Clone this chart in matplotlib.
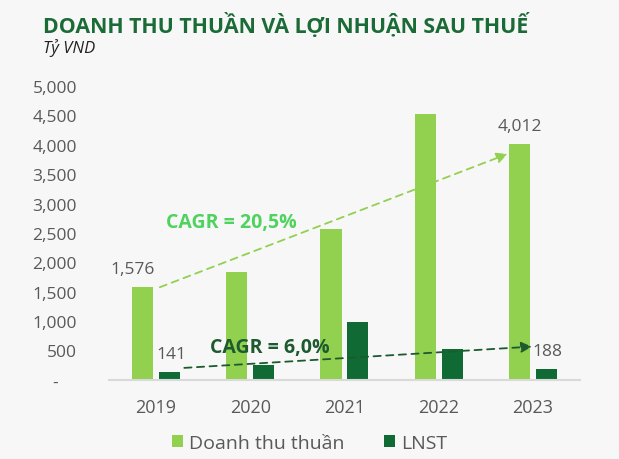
import matplotlib.pyplot as plt
import numpy as np
from matplotlib.ticker import FuncFormatter

years = ['2019', '2020', '2021', '2022', '2023']
revenue = [1576, 1842, 2568, 4524, 4012]   # Doanh thu thuần
profit = [141, 260, 986, 527, 188]          # LNST
yticks = list(range(0, 5001, 500))

light = '#92d050'
dark = '#0f6b33'
grey = '#595959'
bg = '#f7f7f7'

plt.rcParams['font.family'] = ['Open Sans', 'DejaVu Sans']

fig = plt.figure(figsize=(6.19, 4.6), dpi=100, facecolor=bg)
ax = fig.add_axes([0.176, 0.172, 0.761, 0.639], facecolor=bg)

x = np.arange(len(years))
w = 0.223
off = 0.143
ax.bar(x - off, revenue, w, color=light, label='Doanh thu thuần', zorder=2)
ax.bar(x + off, profit, w, color=dark, label='LNST', zorder=2)

ax.set_xlim(-0.5, 4.5)
ax.set_ylim(0, 5000)
ax.set_xticks(x)
ax.set_xticklabels(years)
ax.set_yticks(yticks)
ax.yaxis.set_major_formatter(FuncFormatter(lambda v, p: '-    ' if v == 0 else '{:,.0f}'.format(v)))
ax.tick_params(axis='both', length=0, labelsize=12.5, labelcolor=grey)
ax.tick_params(axis='x', labelsize=13, pad=13)
ax.tick_params(axis='y', pad=23)
for s in ['top', 'right', 'left']:
    ax.spines[s].set_visible(False)
ax.spines['bottom'].set_color('#d9d9d9')
ax.spines['bottom'].set_linewidth(1.5)

# value labels
ax.text(x[0] - off - 0.11, revenue[0] + 310, '{:,}'.format(revenue[0]), ha='center', va='center',
        fontsize=12.5, color=grey)
ax.text(x[0] + off + 0.02, profit[0] + 300, '{:,}'.format(profit[0]), ha='center', va='center',
        fontsize=12.5, color=grey)
ax.text(x[4] - off, revenue[4] + 310, '{:,}'.format(revenue[4]), ha='center', va='center',
        fontsize=12.5, color=grey)
ax.text(x[4] + 0.15, profit[4] + 310, '{:,}'.format(profit[4]), ha='center', va='center',
        fontsize=12.5, color=grey)

# CAGR arrows
ax.annotate('', xy=(x[4] - 0.27, 3843), xytext=(x[0] + 0.04, revenue[0]),
            arrowprops=dict(arrowstyle='-|>', color=light, lw=1.3, ls=(0, (4, 3)),
                            mutation_scale=16, shrinkA=0, shrinkB=0), zorder=3)
ax.annotate('', xy=(x[4] - 0.01, 566), xytext=(x[0] + 0.30, 204),
            arrowprops=dict(arrowstyle='-|>', color='#1d5a2e', lw=1.3, ls=(0, (4, 3)),
                            mutation_scale=16, shrinkA=0, shrinkB=0), zorder=3)
ax.text(0.80, 2692, 'CAGR = 20,5%', ha='center', va='center', fontsize=14,
        fontweight='bold', color='#4fd25e')
ax.text(1.21, 560, 'CAGR = 6,0%', ha='center', va='center', fontsize=14,
        fontweight='bold', color='#1d5a2e', zorder=4)

fig.text(0.069, 0.928, 'DOANH THU THUẦN VÀ LỢI NHUẬN SAU THUẾ', ha='left', va='baseline',
         fontsize=15.4, fontweight='bold', color='#1b6b37')
fig.text(0.069, 0.885, 'Tỷ VND', ha='left', va='baseline', fontsize=12, style='italic',
         color='#222222')

leg = fig.legend(loc='center', bbox_to_anchor=(0.5, 0.035), ncol=2, frameon=False,
                 fontsize=14, labelcolor=grey, handlelength=0.6, handleheight=0.6,
                 handletextpad=0.3, columnspacing=2.0)

fig.savefig('out.png', dpi=100, facecolor=bg)
